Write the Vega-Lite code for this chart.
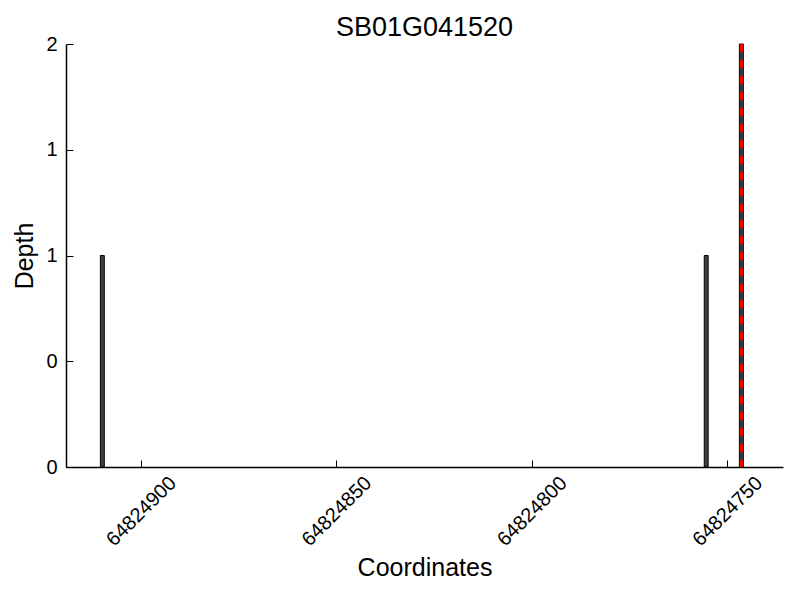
{
  "$schema": "https://vega.github.io/schema/vega-lite/v6.json",
  "width": 717,
  "height": 423,
  "autosize": "none",
  "padding": {"left": 66, "top": 44, "right": 17, "bottom": 133},
  "background": "white",
  "config": {"font": "Liberation Sans", "view": {"stroke": null}},
  "title": {"text": "SB01G041520", "fontSize": 27, "fontWeight": "normal", "color": "#000", "offset": -8, "anchor": "middle", "font": "Liberation Sans"},
  "datasets": {
    "bars": [
      {"start": 64824909.4, "end": 64824910.4, "depth": 1},
      {"start": 64824754.9, "end": 64824755.9, "depth": 1},
      {"start": 64824745.9, "end": 64824746.9, "depth": 2}
    ],
    "marks": [{"pos": 64824746.4}]
  },
  "layer": [
    {
      "data": {"name": "bars"},
      "mark": {"type": "rect", "fill": "#404040", "stroke": "#000", "strokeWidth": 1},
      "encoding": {
        "x": {
          "field": "start", "type": "quantitative",
          "scale": {"domain": [64824735.75, 64824919.2], "reverse": true, "nice": false, "zero": false},
          "title": "Coordinates",
          "axis": {
            "values": [64824750, 64824800, 64824850, 64824900],
            "format": "d", "grid": false,
            "domainColor": "#000", "domainWidth": 1.5,
            "tickColor": "#000", "tickSize": -7, "tickWidth": 1,
            "labelAngle": -45, "labelAlign": "center", "labelBaseline": "middle",
            "labelPadding": 51, "labelFontSize": 20, "labelColor": "#000", "labelFont": "Liberation Sans",
            "labelFlush": false, "labelOverlap": false,
            "titleFontSize": 25, "titleFontWeight": "normal", "titleColor": "#000", "titleFont": "Liberation Sans", "titlePadding": 6
          }
        },
        "x2": {"field": "end"},
        "y": {
          "field": "depth", "type": "quantitative",
          "scale": {"domain": [0, 2], "nice": false},
          "title": "Depth",
          "axis": {
            "values": [0, 0.5, 1, 1.5, 2],
            "labelExpr": "floor(datum.value)", "grid": false,
            "domainColor": "#000", "domainWidth": 1.5,
            "tickColor": "#000", "tickSize": -7, "tickWidth": 1,
            "labelPadding": 16, "labelFontSize": 20, "labelColor": "#000", "labelFont": "Liberation Sans",
            "labelFlush": false, "labelOverlap": false,
            "titleFontSize": 25, "titleFontWeight": "normal", "titleColor": "#000", "titleFont": "Liberation Sans", "titlePadding": 8
          }
        },
        "y2": {"datum": 0}
      }
    },
    {
      "data": {"name": "marks"},
      "mark": {"type": "rule", "color": "red", "strokeWidth": 3, "strokeDash": [8, 8]},
      "encoding": {"x": {"field": "pos", "type": "quantitative"}}
    }
  ]
}
